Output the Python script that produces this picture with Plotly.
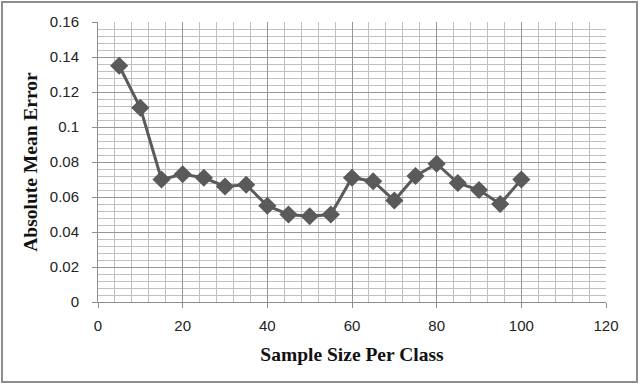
import plotly.graph_objects as go

sample_size = [5, 10, 15, 20, 25, 30, 35, 40, 45, 50, 55, 60, 65, 70, 75, 80, 85, 90, 95, 100]
abs_mean_error = [0.135, 0.111, 0.070, 0.073, 0.071, 0.066, 0.067, 0.055, 0.050, 0.049, 0.050,
                  0.071, 0.069, 0.058, 0.072, 0.079, 0.068, 0.064, 0.056, 0.070]
x_ticks = [0, 20, 40, 60, 80, 100, 120]
y_ticks = [0, 0.02, 0.04, 0.06, 0.08, 0.1, 0.12, 0.14, 0.16]
y_tick_labels = ["0", "0.02", "0.04", "0.06", "0.08", "0.1", "0.12", "0.14", "0.16"]

W, H = 640, 385
L, R, T, B = 98, 34, 22, 83
pw, ph = W - L - R, H - T - B

fig = go.Figure()
fig.add_trace(go.Scatter(
    x=sample_size, y=abs_mean_error, mode="lines+markers",
    line=dict(color="#5a5a5a", width=3),
    marker=dict(symbol="diamond", size=14, color="#5a5a5a"),
    showlegend=False,
))

tickfont = dict(family="Liberation Sans, Arial, sans-serif", size=15, color="#222")
titlefont = dict(family="Liberation Serif, Times New Roman, serif", size=19.5, color="#111")

fig.update_xaxes(
    range=[0, 120], tickvals=x_ticks, ticktext=[str(v) for v in x_ticks],
    showgrid=True, gridcolor="#959595", gridwidth=1,
    minor=dict(dtick=4, showgrid=True, gridcolor="#c0c0c0", gridwidth=1),
    showline=True, linecolor="#8c8c8c", linewidth=1, mirror=False,
    ticks="outside", ticklen=5, tickcolor="#8c8c8c", ticklabelstandoff=5,
    tickfont=tickfont, zeroline=False, automargin=False,
    title=dict(text="<b>Sample Size Per Class</b>", font=titlefont, standoff=14),
)
fig.update_yaxes(
    range=[0, 0.16], tickvals=y_ticks, ticktext=y_tick_labels,
    showgrid=True, gridcolor="#959595", gridwidth=1,
    minor=dict(dtick=0.004, showgrid=True, gridcolor="#c0c0c0", gridwidth=1),
    showline=True, linecolor="#8c8c8c", linewidth=1,
    ticks="outside", ticklen=5, tickcolor="#8c8c8c", ticklabelstandoff=10,
    tickfont=tickfont, zeroline=False, automargin=False,
    title=dict(text="<b>Absolute Mean Error</b>", font=titlefont, standoff=6),
)

# outer chart border
fig.add_shape(type="rect", xref="paper", yref="paper",
              x0=(2 - L) / pw, x1=(W - 3 - L) / pw,
              y0=-(H - 3 - T - ph) / ph, y1=1 + (T - 2) / ph,
              line=dict(color="#8c8c8c", width=2), layer="below")

fig.update_layout(
    width=W, height=H,
    margin=dict(l=L, r=R, t=T, b=B, autoexpand=False),
    paper_bgcolor="white", plot_bgcolor="white",
)
fig.write_html("out.html", config={"displayModeBar": False},
               post_script="document.body.style.margin='0';document.body.style.overflow='hidden';")
